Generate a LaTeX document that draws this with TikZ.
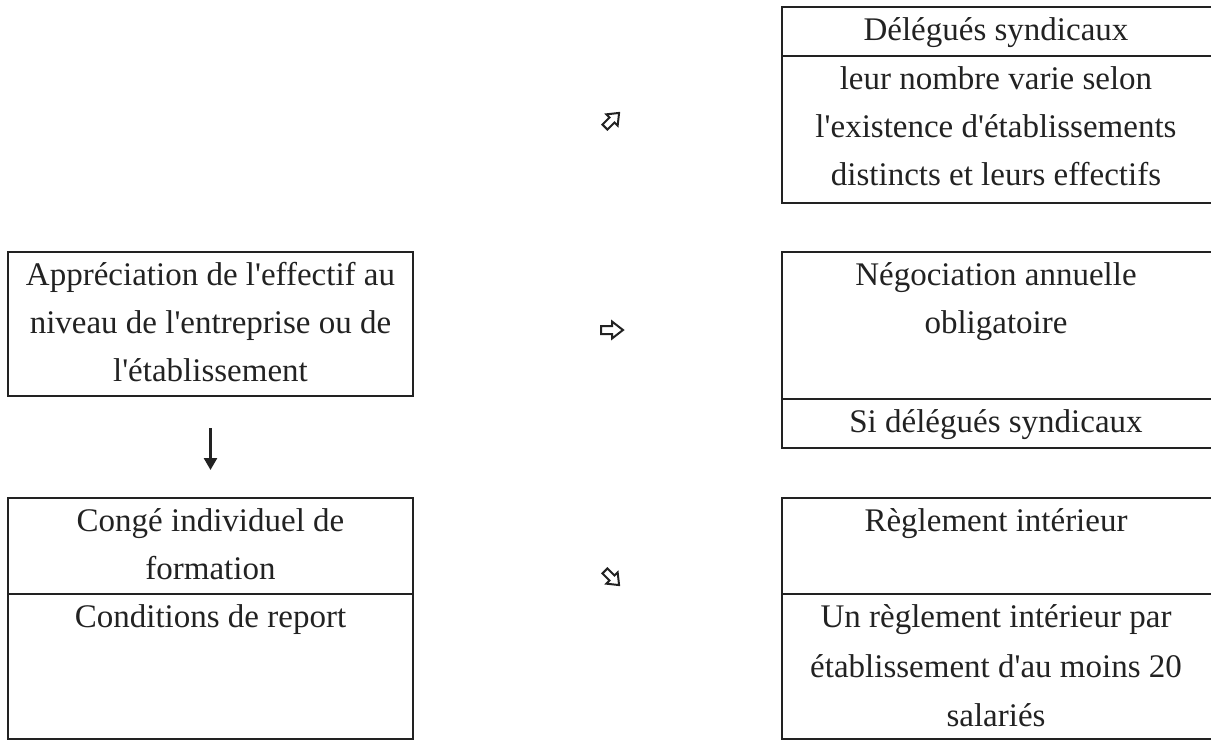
\documentclass[tikz,border=0pt]{standalone}
\usepackage{fontspec}
\newfontfamily\cellfont{Liberation Serif}
\usetikzlibrary{arrows.meta}
\definecolor{ink}{HTML}{222222}
\begin{document}
\begin{tikzpicture}[x=1pt,y=-1pt,
  rule/.style={draw=ink, line width=2.2pt},
  cellbox/.style={rule, rectangle, inner sep=0pt, outer sep=0pt, anchor=north west},
  celltext/.style={anchor=north, inner sep=0pt, align=center, text=ink,
                   font=\cellfont\fontsize{33}{48}\selectfont},
  hollow/.style={draw=ink, line width=2pt, line join=miter, fill=white}]
\useasboundingbox (0,0) rectangle (1211,740);

% table cells (right-hand tables run past the right edge)
\node[cellbox, minimum width=431pt, minimum height=49pt]  (dhead) at (782,7)   {};
\node[cellbox, minimum width=431pt, minimum height=147pt] (dbody) at (782,56)  {};
\node[cellbox, minimum width=405pt, minimum height=144pt] (appr)  at (8,252)   {};
\node[cellbox, minimum width=431pt, minimum height=147pt] (nego)  at (782,252) {};
\node[cellbox, minimum width=431pt, minimum height=49pt]  (nsi)   at (782,399) {};
\node[cellbox, minimum width=405pt, minimum height=96pt]  (conge) at (8,498)   {};
\node[cellbox, minimum width=405pt, minimum height=145pt] (cond)  at (8,594)   {};
\node[cellbox, minimum width=431pt, minimum height=96pt]  (regl)  at (782,498) {};
\node[cellbox, minimum width=431pt, minimum height=145pt] (rbody) at (782,594) {};

% cell texts
\node[celltext] (tdhead) at (996,7)     {\strut Délégués syndicaux};
\node[celltext] (tdbody) at (996,56)    {\strut leur nombre varie selon\\l'existence d'établissements\\distincts et leurs effectifs};
\node[celltext] (tappr)  at (210.5,252) {\strut Appréciation de l'effectif au\\niveau de l'entreprise ou de\\l'établissement};
\node[celltext] (tnego)  at (996,252)   {\strut Négociation annuelle\\obligatoire};
\node[celltext] (tnsi)   at (996,399)   {\strut Si délégués syndicaux};
\node[celltext] (tconge) at (210.5,498) {\strut Congé individuel de\\formation};
\node[celltext] (tcond)  at (210.5,594) {\strut Conditions de report};
\node[celltext] (tregl)  at (996,498)   {\strut Règlement intérieur};
\node[celltext] (trbody) at (996,594)   {\strut Un règlement intérieur par\\[1.5pt]établissement d'au moins 20\\[1.5pt]salariés};

% down arrow between the left-hand tables
\draw[draw=ink, line width=2.6pt, -{Triangle[length=12pt,width=13pt]}]
  ([yshift=-32pt]appr.south) -- ([yshift=28pt]conge.north);

% hollow block arrows
\draw[hollow, shift={(612,120)}, rotate=45]
  (-10,-3.5) -- (0,-3.5) -- (0,-8) -- (10,0) -- (0,8) -- (0,3.5) -- (-10,3.5) -- cycle;
\draw[hollow, shift={(612,330)}]
  (-11,-4) -- (0,-4) -- (0,-8.5) -- (11,0) -- (0,8.5) -- (0,4) -- (-11,4) -- cycle;
\draw[hollow, shift={(612,578)}, rotate=-45]
  (-10,-3.5) -- (0,-3.5) -- (0,-8) -- (10,0) -- (0,8) -- (0,3.5) -- (-10,3.5) -- cycle;
\end{tikzpicture}
\end{document}
